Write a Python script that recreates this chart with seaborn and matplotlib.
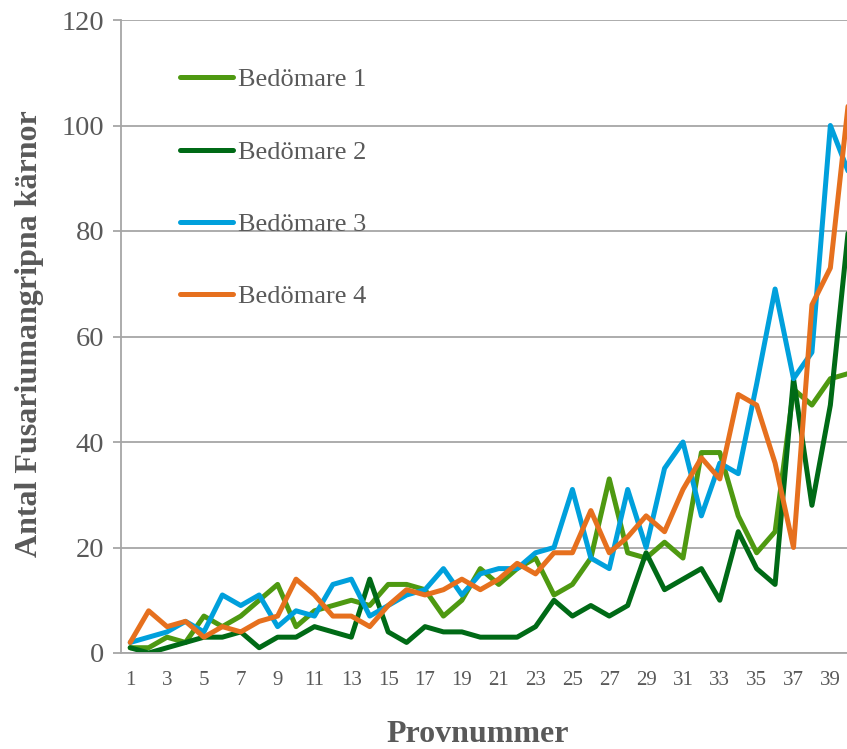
import numpy as np
import pandas as pd
import matplotlib
matplotlib.use("Agg")
import matplotlib.pyplot as plt
import seaborn as sns

# provnummer 1..40
prov = list(range(1, 41))

bedomare1 = [1, 1, 3, 2, 7, 5, 7, 10, 13, 5, 8, 9, 10, 9, 13, 13, 12, 7, 10, 16,
             13, 16, 18, 11, 13, 18, 33, 19, 18, 21, 18, 38, 38, 26, 19, 23, 50, 47, 52, 53]
bedomare2 = [1, 0, 1, 2, 3, 3, 4, 1, 3, 3, 5, 4, 3, 14, 4, 2, 5, 4, 4, 3,
             3, 3, 5, 10, 7, 9, 7, 9, 19, 12, 14, 16, 10, 23, 16, 13, 52, 28, 47, 81]
bedomare3 = [2, 3, 4, 6, 4, 11, 9, 11, 5, 8, 7, 13, 14, 7, 9, 11, 12, 16, 11, 15,
             16, 16, 19, 20, 31, 18, 16, 31, 20, 35, 40, 26, 36, 34, 51, 69, 52, 57, 100, 91]
bedomare4 = [2, 8, 5, 6, 3, 5, 4, 6, 7, 14, 11, 7, 7, 5, 9, 12, 11, 12, 14, 12,
             14, 17, 15, 19, 19, 27, 19, 22, 26, 23, 31, 37, 33, 49, 47, 36, 20, 66, 73, 105]

serier = ["Bedömare 1", "Bedömare 2", "Bedömare 3", "Bedömare 4"]
farger = ["#4E9911", "#006A16", "#00A0DC", "#E6701E"]

df = pd.DataFrame({"Provnummer": prov * 4,
                   "Antal": bedomare1 + bedomare2 + bedomare3 + bedomare4,
                   "Bedömare": sum([[s] * 40 for s in serier], [])})

sns.set_style("white")
plt.rcParams['font.family'] = ['Liberation Serif', 'DejaVu Serif']

fig = plt.figure(figsize=(8.47, 7.49), dpi=100)
ax = fig.add_axes([121 / 847, 96 / 749, 737 / 847, 633 / 749])

sns.lineplot(data=df, x="Provnummer", y="Antal", hue="Bedömare",
             palette=farger, linewidth=3.6, ax=ax)

grå = "#A6A6A6"
textgrå = "#595959"
ax.set_xlim(0.5, 40.5)
ax.set_ylim(0, 120)
ax.set_yticks(range(0, 121, 20))
ax.set_xticks(range(1, 41, 2))
ax.yaxis.grid(True, color=grå, linewidth=1.3)
ax.set_axisbelow(True)
for s in ["top", "right"]:
    ax.spines[s].set_visible(False)
for s in ["left", "bottom"]:
    ax.spines[s].set_color(grå)
    ax.spines[s].set_linewidth(1.3)
ax.tick_params(axis="y", length=6, width=1.3, color=grå, pad=6,
               labelsize=20.5, labelcolor=textgrå, left=True)
ax.tick_params(axis="x", length=0, pad=13, labelsize=15, labelcolor=textgrå)
ax.set_xlabel("")
ax.set_ylabel("")

fig.text(30 / 847, 1 - 334 / 749, "Antal Fusariumangripna kärnor", rotation=90,
         ha="center", va="center", fontsize=23, fontweight="bold", color=textgrå)
fig.text(478 / 847, 1 - 735 / 749, "Provnummer", ha="center", va="center",
         fontsize=23, fontweight="bold", color=textgrå)

leg = ax.legend(loc="upper left", bbox_to_anchor=(180 / 847, 1 - 68 / 749),
                bbox_transform=fig.transFigure, frameon=False, fontsize=19,
                handlelength=2.0, handletextpad=0.2, labelspacing=1.85,
                borderpad=0, borderaxespad=0)
for t in leg.get_texts():
    t.set_color(textgrå)

fig.savefig("out.png", dpi=100)
